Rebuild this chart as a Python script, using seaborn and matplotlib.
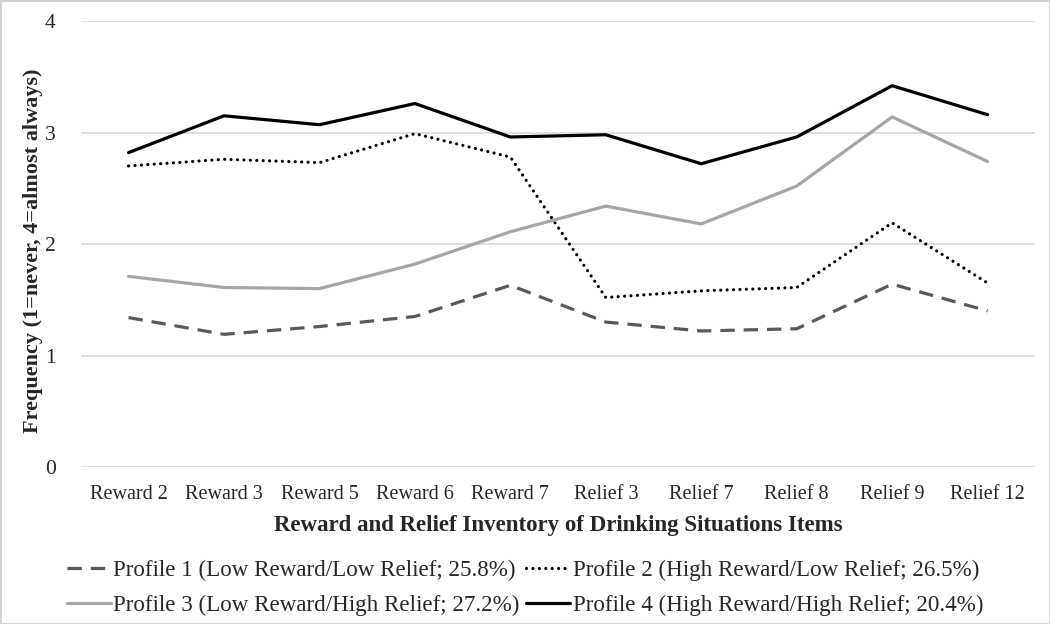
import matplotlib
matplotlib.use("Agg")
import matplotlib.pyplot as plt
import seaborn as sns
import pandas as pd
from matplotlib.patches import Rectangle

items = ["Reward 2", "Reward 3", "Reward 5", "Reward 6", "Reward 7",
         "Relief 3", "Relief 7", "Relief 8", "Relief 9", "Relief 12"]
profile1 = [1.34, 1.19, 1.26, 1.35, 1.63, 1.30, 1.22, 1.24, 1.64, 1.40]
profile2 = [2.70, 2.76, 2.73, 2.99, 2.78, 1.52, 1.58, 1.61, 2.19, 1.65]
profile3 = [1.71, 1.61, 1.60, 1.82, 2.11, 2.34, 2.18, 2.52, 3.14, 2.74]
profile4 = [2.82, 3.15, 3.07, 3.26, 2.96, 2.98, 2.72, 2.96, 3.42, 3.16]
labels = ["Profile 1 (Low Reward/Low Relief; 25.8%)",
          "Profile 2 (High Reward/Low Relief; 26.5%)",
          "Profile 3 (Low Reward/High Relief; 27.2%)",
          "Profile 4 (High Reward/High Relief; 20.4%)"]
yticks = [0, 1, 2, 3, 4]

sns.set_theme(style="white")
plt.rcParams['font.family'] = ['Liberation Serif', 'DejaVu Serif']

fig = plt.figure(figsize=(10.5, 6.24), dpi=100)
ax = fig.add_axes([0.077, 0.2516, 0.909, 0.7147])

series = [profile1, profile2, profile3, profile4]
colors = ["#595959", "#000000", "#a6a6a6", "#000000"]
styles = [(0, (4.5, 2.8)), (0, (0.01, 2.0)), "-", "-"]
for vals, lab, col in zip(series, labels, colors):
    df = pd.DataFrame({"item": items, "value": vals})
    sns.lineplot(data=df, x="item", y="value", ax=ax, color=col,
                 linewidth=2.3, label=lab, sort=False)
for i, (line, ls) in enumerate(zip(ax.get_lines(), styles)):
    line.set_linestyle(ls)
    if i == 1:
        line.set_dash_capstyle("round")

ax.set_ylim(0, 4)
ax.set_xlim(-0.5, len(items) - 0.5)
ax.set_yticks(yticks)
ax.set_yticklabels([str(t) for t in yticks])
ax.grid(axis="y", color="#d9d9d9", linewidth=1.2)
ax.grid(axis="x", visible=False)
for s in ax.spines.values():
    s.set_visible(False)
ax.tick_params(axis="x", labelsize=14.5, length=0, pad=13, colors="#262626")
ax.tick_params(axis="y", labelsize=15.5, length=0, pad=18, colors="#262626")
ax.set_xlabel("Reward and Relief Inventory of Drinking Situations Items",
              fontsize=16.5, fontweight="bold", labelpad=8)
ax.set_ylabel("Frequency (1=never, 4=almost always)",
              fontsize=16, fontweight="bold")
ax.yaxis.set_label_coords(-0.040, 0.485)

handles, labs = ax.get_legend_handles_labels()
ax.get_legend().remove()
order = [0, 2, 1, 3]
fig.legend([handles[i] for i in order], [labs[i] for i in order],
           loc="upper center", bbox_to_anchor=(0.5, 0.122),
           ncol=2, frameon=False, fontsize=16.6, handlelength=1.9,
           handletextpad=0.1, columnspacing=0.3, labelspacing=0.62,
           borderpad=0)

fig.patches.append(Rectangle((0, 0), 1, 1, transform=fig.transFigure,
                             fill=False, edgecolor="#d0d0d0", linewidth=2))
fig.savefig("out.png", dpi=100)
